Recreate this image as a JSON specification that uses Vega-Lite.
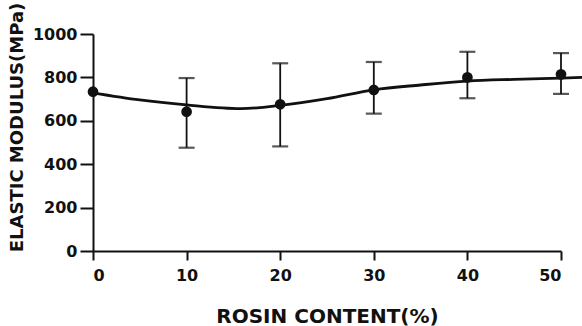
{
  "$schema": "https://vega.github.io/schema/vega-lite/v6.json",
  "width": 468,
  "height": 217,
  "autosize": {"type": "none"},
  "padding": {"left": 93, "top": 34, "right": 21, "bottom": 75},
  "background": "white",
  "config": {
    "view": {"stroke": null},
    "axis": {
      "grid": false,
      "domainColor": "#111",
      "domainWidth": 2,
      "tickColor": "#111",
      "tickWidth": 2,
      "labelFont": "DejaVu Sans",
      "labelFontWeight": "bold",
      "labelFontSize": 16,
      "labelColor": "#111",
      "titleFont": "DejaVu Sans",
      "titleFontWeight": "bold",
      "titleColor": "#111"
    }
  },
  "datasets": {
    "pts": [
      {"rosin": 0, "modulus": 734, "lo": 734, "hi": 734},
      {"rosin": 10, "modulus": 642, "lo": 476, "hi": 797},
      {"rosin": 20, "modulus": 676, "lo": 482, "hi": 865},
      {"rosin": 30, "modulus": 742, "lo": 633, "hi": 871},
      {"rosin": 40, "modulus": 800, "lo": 704, "hi": 918},
      {"rosin": 50, "modulus": 814, "lo": 724, "hi": 912}
    ],
    "curve": [
      {"rosin": 0, "fit": 729},
      {"rosin": 5, "fit": 696},
      {"rosin": 10, "fit": 673},
      {"rosin": 15.8, "fit": 656},
      {"rosin": 20, "fit": 671},
      {"rosin": 25, "fit": 702},
      {"rosin": 30, "fit": 743},
      {"rosin": 35, "fit": 765},
      {"rosin": 40, "fit": 783},
      {"rosin": 45, "fit": 791},
      {"rosin": 50, "fit": 797},
      {"rosin": 52.3, "fit": 800}
    ]
  },
  "layer": [
    {
      "data": {"name": "curve"},
      "mark": {"type": "line", "interpolate": "monotone", "color": "#111", "strokeWidth": 2.8, "clip": false},
      "encoding": {
        "x": {
          "field": "rosin", "type": "quantitative",
          "scale": {"domain": [0, 50], "nice": false},
          "axis": {
            "title": "ROSIN CONTENT(%)",
            "titleFontSize": 20,
            "values": [0, 10, 20, 30, 40, 50],
            "format": "d",
            "tickSize": 9,
            "labelPadding": 7,
            "titleY": 65,
            "titleBaseline": "middle"
          }
        },
        "y": {
          "field": "fit", "type": "quantitative",
          "scale": {"domain": [0, 1000], "nice": false},
          "axis": {
            "title": "ELASTIC MODULUS(MPa)",
            "titleFontSize": 18,
            "values": [0, 100, 200, 300, 400, 500, 600, 700, 800, 900, 1000],
            "format": "d",
            "labelExpr": "datum.value % 200 === 0 ? datum.label : ''",
            "tickSize": {"condition": {"test": "datum.value % 200 === 0", "value": 13}, "value": 8},
            "labelPadding": 3,
            "titleX": -76,
            "titleY": 93,
            "titleAngle": -90,
            "titleAlign": "center",
            "titleBaseline": "middle"
          }
        }
      }
    },
    {
      "data": {"name": "pts"},
      "mark": {"type": "rule", "color": "#111", "strokeWidth": 1.8},
      "encoding": {
        "x": {"field": "rosin", "type": "quantitative"},
        "y": {"field": "lo", "type": "quantitative"},
        "y2": {"field": "hi"}
      }
    },
    {
      "data": {"name": "pts"},
      "mark": {"type": "tick", "orient": "horizontal", "color": "#111", "size": 16, "thickness": 2.2},
      "encoding": {
        "x": {"field": "rosin", "type": "quantitative"},
        "y": {"field": "lo", "type": "quantitative"}
      },
      "transform": [{"filter": "datum.rosin > 0"}]
    },
    {
      "data": {"name": "pts"},
      "mark": {"type": "tick", "orient": "horizontal", "color": "#111", "size": 16, "thickness": 2.2},
      "encoding": {
        "x": {"field": "rosin", "type": "quantitative"},
        "y": {"field": "hi", "type": "quantitative"}
      },
      "transform": [{"filter": "datum.rosin > 0"}]
    },
    {
      "data": {"name": "pts"},
      "mark": {"type": "point", "filled": true, "color": "#111", "opacity": 1, "size": 115},
      "encoding": {
        "x": {"field": "rosin", "type": "quantitative"},
        "y": {"field": "modulus", "type": "quantitative"}
      }
    }
  ]
}
